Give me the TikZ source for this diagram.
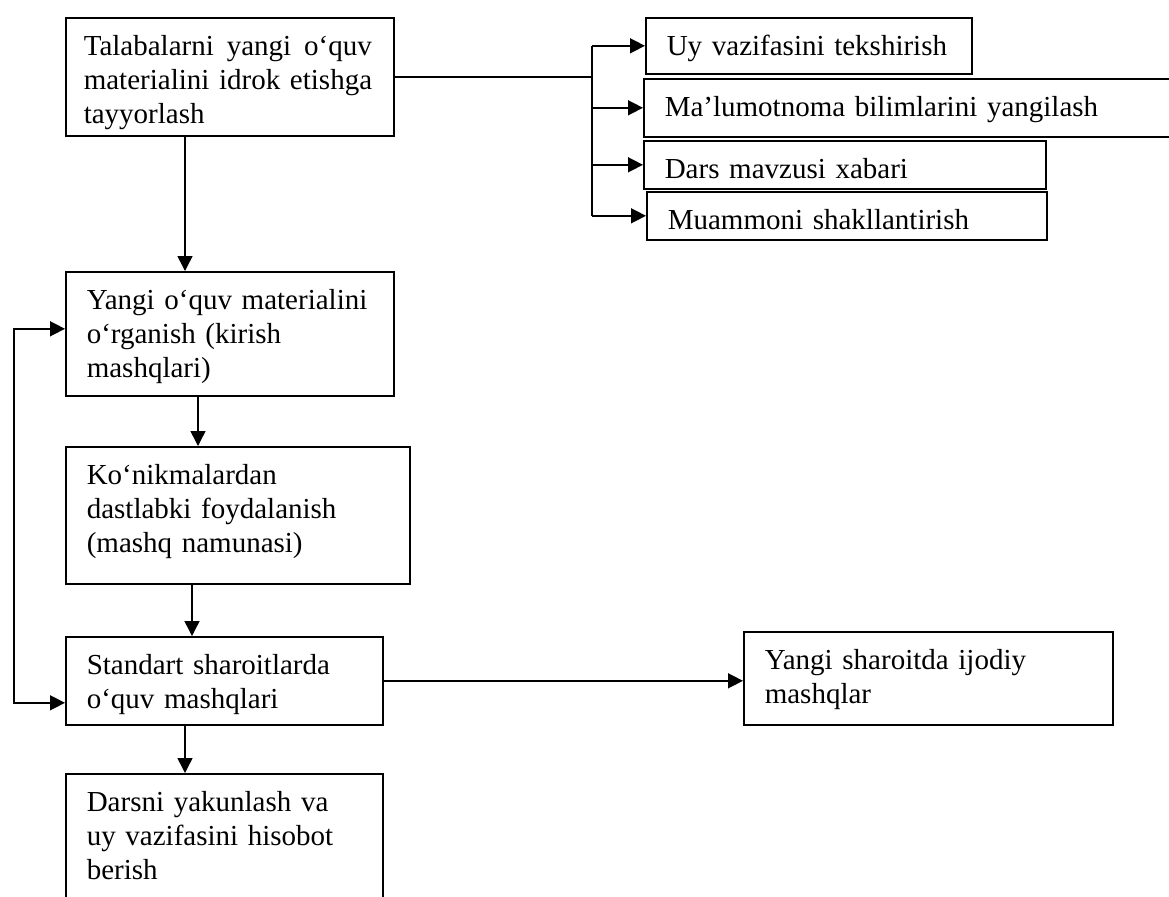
\documentclass[tikz,border=0pt]{standalone}
\usepackage{fontspec}
\setmainfont{Liberation Serif}
\usetikzlibrary{arrows.meta}

\tikzset{
  blok/.style 2 args={draw, line width=0.8pt, anchor=north west,
    text width=#1, text height=18.75pt, text depth=#2,
    inner xsep=10.5pt, inner ysep=0pt,
    align=left, font=\fontsize{14.5pt}{17pt}\selectfont}
}

\begin{document}
\begin{tikzpicture}[x=0.5pt, y=-0.5pt, line width=0.75pt,
  >={Triangle[length=7.5pt,width=7.5pt]}]
  \useasboundingbox (0,0) rectangle (1169,896);

  \node (tayyor) at (65,17) [blok={146pt}{40.25pt}, inner xsep=9pt]
    {\hbox to 144pt{Talabalarni\hfill yangi\hfill o‘quv}\\\mbox{materialini idrok etishga}\\tayyorlash};

  \node (uy)      at (645,17)  [blok={142pt}{9.25pt}]   {Uy vazifasini tekshirish};
  \node (malumot) at (643,78)  [blok={243.5pt}{10.25pt}] {Ma’lumotnoma bilimlarini yangilash};
  \node (dars)    at (643,140) [blok={180pt}{5.25pt}]   {Dars mavzusi xabari};
  \node (muammo)  at (646,191) [blok={179pt}{5.25pt}]   {Muammoni shakllantirish};

  \node (yangi)    at (65,271) [blok={143pt}{43.25pt}]
    {Yangi o‘quv materialini\\o‘rganish (kirish\\mashqlari)};
  \node (konikma)  at (65,446) [blok={151pt}{49.75pt}]
    {Ko‘nikmalardan\\dastlabki foydalanish\\(mashq namunasi)};
  \node (standart) at (65,636) [blok={137.5pt}{25.25pt}]
    {Standart sharoitlarda\\o‘quv mashqlari};
  \node (ijodiy)   at (743,631) [blok={163.5pt}{27.75pt}]
    {Yangi sharoitda ijodiy\\mashqlar};
  \node (darsni)   at (65,773) [blok={137.5pt}{48.75pt}]
    {Darsni yakunlash va\\uy vazifasini hisobot\\berish};

  \coordinate (ayri)  at (592,0);
  \coordinate (halqa) at (14,500);

  % tayyorlash bosqichlari
  \draw (tayyor.east) -- (tayyor.east -| ayri);
  \draw (ayri |- uy.west) -- (ayri |- muammo.west);
  \foreach \n in {uy,malumot,dars,muammo}
    \draw[->] (ayri |- \n.west) -- (\n.west);

  % asosiy zanjir
  \draw[->] ([xshift=60pt]tayyor.south west) -- ([xshift=60pt]yangi.north west);
  \draw[->] ([xshift=66.5pt]yangi.south west) -- ([xshift=66.5pt]konikma.north west);
  \draw[->] ([xshift=63.5pt]konikma.south west) -- ([xshift=63.5pt]standart.north west);
  \draw[->] ([xshift=60pt]standart.south west) -- ([xshift=60pt]darsni.north west);
  \draw[->] (standart.east) -- (standart.east -| ijodiy.west);

  % qaytish
  \draw[<->] ([yshift=2.5pt]yangi.west) -| (halqa) |- ([yshift=-11pt]standart.west);
\end{tikzpicture}
\end{document}
